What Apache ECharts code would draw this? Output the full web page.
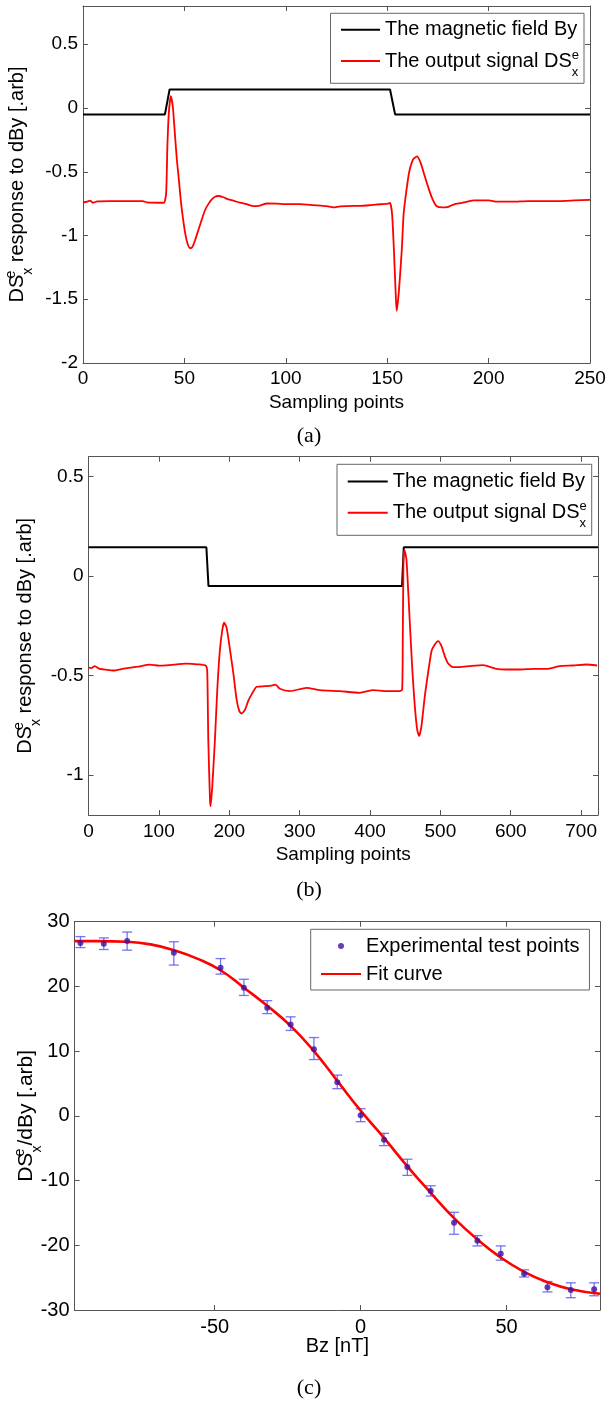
<!DOCTYPE html>
<html>
<head>
<meta charset="utf-8">
<script src="https://cdn.jsdelivr.net/npm/echarts@6/dist/echarts.min.js"></script>
<style>
  html, body { margin: 0; padding: 0; background: #fff; }
  #chart { width: 608px; height: 1403px; }
</style>
</head>
<body>
<div id="chart"></div>
<script>
// (a) magnetic field By step and the output signal
const aByX = [0, 40.4, 42.7, 151.4, 153.9, 250];
const aByY = [-0.05, -0.05, 0.145, 0.145, -0.05, -0.05];
const aOutX = [0, 2, 3.5, 5, 7, 13, 21, 29.5, 31.5, 38, 40, 41, 41.6, 42.3, 43.3, 44.3, 45.3, 46.3, 47.3, 48.2,
  49.2, 50.4, 51.5, 52.8, 54, 55.3, 56.9, 58.6, 60.2, 61.8, 63.5, 65.1, 66.8, 69.2, 71.7, 74.1, 77.4, 80.7, 84, 87.3,
  90.6, 95.5, 100.4, 107, 113.6, 120.2, 123.5, 126.7, 133.3, 136.6, 142, 146.6, 150.5, 151.4, 152.4, 153.3, 154.3, 154.7, 155.8, 157.2,
  158.1, 159.7, 161, 162.9, 164.8, 166.7, 168.6, 170.6, 172.5, 174.4, 177.3, 180.1, 183, 186.8, 192.6, 200.2, 204, 211.7, 219.4, 227,
  234.7, 242.3, 250];
const aOutY = [-0.743, -0.735, -0.727, -0.743, -0.732, -0.73, -0.73, -0.73, -0.74, -0.743, -0.742, -0.67, -0.305, -0.044, 0.092, 0.008, -0.2, -0.409, -0.566, -0.722,
  -0.853, -0.983, -1.061, -1.1, -1.088, -1.035, -0.957, -0.873, -0.8, -0.754, -0.717, -0.696, -0.69, -0.7, -0.717, -0.727, -0.743, -0.754, -0.77, -0.765,
  -0.749, -0.75, -0.754, -0.754, -0.762, -0.77, -0.78, -0.772, -0.768, -0.768, -0.762, -0.755, -0.75, -0.745, -0.83, -1.11, -1.5, -1.59, -1.43, -1.11,
  -0.83, -0.62, -0.49, -0.4, -0.38, -0.44, -0.54, -0.64, -0.72, -0.77, -0.78, -0.775, -0.755, -0.745, -0.725, -0.725, -0.735, -0.735, -0.73, -0.73,
  -0.73, -0.725, -0.72];
const aXTicks = [0, 50, 100, 150, 200, 250];
const aYTicks = [-2, -1.5, -1, -0.5, 0, 0.5];

// (b) second record
const bByX = [0, 167.5, 170.5, 445.5, 448, 724];
const bByY = [0.145, 0.145, -0.05, -0.05, 0.145, 0.145];
const bOutX = [0, 4, 9, 15, 25, 35, 50, 70, 87, 100, 115, 139, 155, 166.9, 168.8, 170.2, 172.6, 173.5, 175.9, 179.7,
  183, 186.8, 190.6, 192.9, 196.3, 201, 205.7, 210.5, 214.3, 217.6, 222.3, 227, 231.8, 238.9, 250.7, 260.2, 265.9, 272, 286.2, 309.9,
  328.8, 357.2, 385.6, 404.5, 423.5, 442.4, 445.7, 446.6, 447.6, 449, 451.8, 456.6, 460.4, 463.7, 467, 469.8, 473.1, 477.9, 482.6, 487.4,
  492.1, 496.8, 501.6, 506.3, 511, 518.1, 527.6, 541.8, 560.7, 579.7, 593.9, 612.8, 631.7, 650.7, 669.6, 688.6, 707.5, 722.7];
const bOutY = [-0.46, -0.462, -0.452, -0.465, -0.47, -0.474, -0.465, -0.455, -0.445, -0.45, -0.447, -0.44, -0.443, -0.45, -0.485, -0.82, -1.12, -1.156, -1.055, -0.82,
  -0.57, -0.368, -0.26, -0.234, -0.26, -0.368, -0.485, -0.62, -0.678, -0.69, -0.672, -0.627, -0.594, -0.556, -0.553, -0.55, -0.545, -0.566, -0.578, -0.561,
  -0.573, -0.578, -0.586, -0.573, -0.578, -0.578, -0.57, -0.318, 0.084, 0.13, 0.084, -0.234, -0.485, -0.653, -0.77, -0.804, -0.754, -0.603, -0.485, -0.377,
  -0.344, -0.327, -0.352, -0.402, -0.439, -0.457, -0.457, -0.452, -0.447, -0.466, -0.469, -0.469, -0.466, -0.466, -0.452, -0.449, -0.444, -0.449];
const bXTicks = [0, 100, 200, 300, 400, 500, 600, 700];
const bYTicks = [-1, -0.5, 0, 0.5];

// (c) test points with error bars and the fit
const cBz = [-96, -88, -80, -64, -48, -40, -32, -24, -16, -8, 0, 8, 16, 24, 32, 40, 48, 56, 64, 72, 80];
const cVal = [26.7, 26.6, 27.0, 25.2, 22.9, 19.8, 16.7, 14.1, 10.3, 5.2, 0.1, -3.7, -7.9, -11.6, -16.5, -19.3, -21.3, -24.4, -26.5, -26.9, -26.8];
const cLow = [26.0, 25.7, 25.6, 23.3, 21.9, 18.6, 15.8, 13.2, 8.7, 4.2, -0.9, -4.6, -9.2, -12.4, -18.3, -20.1, -22.3, -24.9, -27.2, -28.1, -27.8];
const cHigh = [27.7, 27.5, 28.4, 26.9, 24.3, 21.1, 17.8, 15.3, 12.1, 6.3, 1.1, -2.7, -6.7, -10.8, -14.9, -18.5, -20.1, -23.8, -25.6, -25.8, -25.8];
const fitBz = [-98, -90, -80, -72, -64, -56, -48, -40, -32, -24, -16, -8, 0, 8, 16, 24, 32, 40, 48, 56, 64, 72, 82];
const fitVal = [27.0, 27.0, 26.9, 26.5, 25.6, 24.3, 22.5, 19.8, 17.0, 13.9, 10.0, 5.4, 0.8, -3.4, -7.8, -11.9, -15.8, -19.1, -21.9, -24.1, -25.7, -26.8, -27.5];
const cXTicks = [-50, 0, 50];
const cYTicks = [-30, -20, -10, 0, 10, 20, 30];

const FONT = 'Liberation Sans, Arial, sans-serif';
const SERIF = 'Liberation Serif, Times New Roman, serif';
const BOXC = '#555';
const BY = 'The magnetic field By';
const OUT = 'The output signal DSx';
const PTS = 'Experimental test points';
const FIT = 'Fit curve';

const zip = (xs, ys) => xs.map((x, i) => [x, ys[i]]);

// DS with e over x, e has zero width so x sits under it
function richSub(fs, small) {
  return {
    t: { fontSize: fs, fontFamily: FONT, color: '#000' },
    e: { fontSize: small, fontFamily: FONT, color: '#000', width: 0, padding: [0, 0, 12, 0] },
    x: { fontSize: small, fontFamily: FONT, color: '#000', padding: [22, 0, 0, 0] }
  };
}

// one framed box: bottom/left axes carry labels, top/right are mirrored ticks
function xAxes(grid, min, max, ticks, fs, name, nameGap, margin) {
  const base = {
    type: 'value', gridIndex: grid, min, max,
    splitLine: { show: false },
    axisLine: { show: true, onZero: false, lineStyle: { color: BOXC, width: 1 } },
    axisTick: { show: true, inside: true, length: 5, customValues: ticks, lineStyle: { color: BOXC } }
  };
  return [
    Object.assign({}, base, {
      position: 'bottom',
      axisLabel: { customValues: ticks, margin, color: '#000', fontFamily: FONT, fontSize: fs },
      name, nameLocation: 'middle', nameGap, nameMoveOverlap: false,
      nameTextStyle: { color: '#000', fontFamily: FONT, fontSize: fs }
    }),
    Object.assign({}, base, { position: 'top', axisLabel: { show: false } })
  ];
}

function yAxes(grid, min, max, ticks, fs, name, nameGap, small) {
  const base = {
    type: 'value', gridIndex: grid, min, max,
    splitLine: { show: false },
    axisLine: { show: true, onZero: false, lineStyle: { color: BOXC, width: 1 } },
    axisTick: { show: true, inside: true, length: 5, customValues: ticks, lineStyle: { color: BOXC } }
  };
  return [
    Object.assign({}, base, {
      position: 'left',
      axisLabel: { customValues: ticks, margin: 5, color: '#000', fontFamily: FONT, fontSize: fs },
      name, nameLocation: 'middle', nameGap, nameMoveOverlap: false,
      nameTextStyle: { rich: richSub(fs + 1, small) }
    }),
    Object.assign({}, base, { position: 'right', axisLabel: { show: false } })
  ];
}

// line entries get no marker in their icon
function legendFor(left, top, items, itemWidth, itemHeight, pad, gap, fs) {
  return {
    left, top, orient: 'vertical',
    data: items.map(n => n === PTS ? n : { name: n, itemStyle: { opacity: 0 } }),
    itemWidth, itemHeight, itemGap: gap, padding: pad,
    selectedMode: false,
    backgroundColor: '#fff', borderColor: '#666', borderWidth: 1,
    formatter: n => n === OUT ? '{t|The output signal DS}{e|e}{x|x}' : '{t|' + n + '}',
    textStyle: { rich: richSub(fs, 13) }
  };
}

function renderErr(params, api) {
  const x = api.value(0);
  const lo = api.coord([x, api.value(1)]);
  const hi = api.coord([x, api.value(2)]);
  const w = 5;
  const style = { stroke: '#5c5cf2', lineWidth: 1.3, opacity: 0.85 };
  return {
    type: 'group',
    children: [
      { type: 'line', shape: { x1: lo[0], y1: lo[1], x2: hi[0], y2: hi[1] }, style },
      { type: 'line', shape: { x1: lo[0] - w, y1: lo[1], x2: lo[0] + w, y2: lo[1] }, style },
      { type: 'line', shape: { x1: hi[0] - w, y1: hi[1], x2: hi[0] + w, y2: hi[1] }, style }
    ]
  };
}

const chart = echarts.init(document.getElementById('chart'), null, { renderer: 'canvas' });

const option = {
  animation: false,
  backgroundColor: '#fff',
  grid: [
    { left: 83, top: 6, width: 507, height: 357, outerBoundsMode: 'none' },
    { left: 88.5, top: 456.7, width: 509.5, height: 358.3, outerBoundsMode: 'none' },
    { left: 74.6, top: 921.7, width: 525.4, height: 388.3, outerBoundsMode: 'none' }
  ],
  xAxis: [
    ...xAxes(0, 0, 250, aXTicks, 19, 'Sampling points', 30, 6),
    ...xAxes(1, 0, 724, bXTicks, 19, 'Sampling points', 30, 7),
    ...xAxes(2, -98, 82, cXTicks, 20, 'Bz [nT]', 26, 7)
  ],
  yAxis: [
    ...yAxes(0, -2, 0.8, aYTicks, 19, '{t|DS}{e|e}{x|x}{t| response to dBy [.arb]}', 48, 14),
    ...yAxes(1, -1.2, 0.6, bYTicks, 19, '{t|DS}{e|e}{x|x}{t| response to dBy [.arb]}', 45, 14),
    ...yAxes(2, -30, 30, cYTicks, 20, '{t|DS}{e|e}{x|x}{t|/dBy [.arb]}', 30, 14)
  ],
  legend: [
    legendFor(330.5, 13.3, [BY, OUT], 39, 10, [6.5, 5, 4.8, 9.5], 8.7, 20),
    legendFor(337, 464.3, [BY, OUT], 40, 10, [7.2, 5, 5.1, 9.7], 8.7, 20),
    legendFor(310.7, 929.3, [PTS, FIT], 40, 6, [6.7, 10, 6, 9.3], 8, 20)
  ],
  series: [
    { name: BY, type: 'line', xAxisIndex: 0, yAxisIndex: 0, data: zip(aByX, aByY), symbol: 'none',
      lineStyle: { color: '#000', width: 2 }, itemStyle: { color: '#000' } },
    { name: OUT, type: 'line', xAxisIndex: 0, yAxisIndex: 0, data: zip(aOutX, aOutY), symbol: 'none', smooth: 0.2,
      lineStyle: { color: '#f00', width: 1.8 }, itemStyle: { color: '#f00' } },
    { name: BY, type: 'line', xAxisIndex: 2, yAxisIndex: 2, data: zip(bByX, bByY), symbol: 'none',
      lineStyle: { color: '#000', width: 2 }, itemStyle: { color: '#000' } },
    { name: OUT, type: 'line', xAxisIndex: 2, yAxisIndex: 2, data: zip(bOutX, bOutY), symbol: 'none', smooth: 0.2,
      lineStyle: { color: '#f00', width: 1.8 }, itemStyle: { color: '#f00' } },
    { name: 'err', type: 'custom', xAxisIndex: 4, yAxisIndex: 4, renderItem: renderErr,
      data: cBz.map((x, i) => [x, cLow[i], cHigh[i]]), encode: { x: 0, y: [1, 2] }, z: 2 },
    { name: FIT, type: 'line', xAxisIndex: 4, yAxisIndex: 4, data: zip(fitBz, fitVal), symbol: 'none', smooth: true,
      lineStyle: { color: '#f00', width: 2.6 }, itemStyle: { color: '#f00' }, z: 3 },
    { name: PTS, type: 'scatter', xAxisIndex: 4, yAxisIndex: 4, data: zip(cBz, cVal), symbol: 'circle', symbolSize: 6,
      itemStyle: { color: '#3f0f9e' }, z: 4 }
  ],
  graphic: [
    { type: 'text', x: 309, y: 436, style: { text: '(a)', font: '22px ' + SERIF, fill: '#000', align: 'center', verticalAlign: 'middle' } },
    { type: 'text', x: 309, y: 890, style: { text: '(b)', font: '22px ' + SERIF, fill: '#000', align: 'center', verticalAlign: 'middle' } },
    { type: 'text', x: 309, y: 1388, style: { text: '(c)', font: '22px ' + SERIF, fill: '#000', align: 'center', verticalAlign: 'middle' } }
  ]
};

chart.setOption(option);
</script>
</body>
</html>
